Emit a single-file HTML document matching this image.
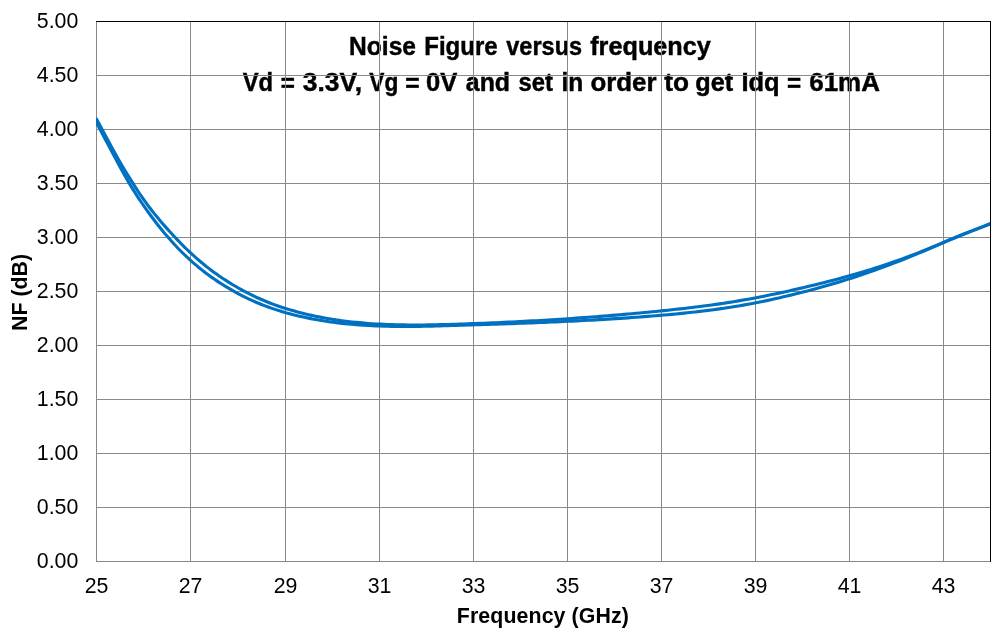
<!DOCTYPE html>
<html><head><meta charset="utf-8"><title>Noise Figure versus frequency</title>
<style>
html,body{margin:0;padding:0;background:#fff;}
body{width:1002px;height:633px;overflow:hidden;font-family:"Liberation Sans",sans-serif;}
svg{display:block;will-change:transform;}
text{font-family:"Liberation Sans",sans-serif;fill:#000;}
.tick{font-size:21.33px;}
.axt{font-size:21.33px;font-weight:bold;}
.ttl{font-weight:bold;}
</style></head>
<body>
<svg width="1002" height="633" viewBox="0 0 1002 633">
<rect x="0" y="0" width="1002" height="633" fill="#ffffff"/>
<g class="ttl" font-size="25.8" stroke="#000" stroke-width="0.45">
<text transform="translate(349.05 54.9) scale(0.9535 1)">Noise</text>
<text transform="translate(424.27 54.9) scale(0.9306 1)">Figure</text>
<text transform="translate(506.20 54.9) scale(0.9126 1)">versus</text>
<text transform="translate(590.20 54.9) scale(0.9787 1)">frequency</text>
<text transform="translate(242.70 90.6) scale(0.9222 1)">Vd</text>
<text transform="translate(280.86 91.5) scale(0.9385 1)">=</text>
<text transform="translate(302.80 90.6) scale(1.0229 1)">3.3V,</text>
<text transform="translate(369.30 90.6) scale(0.8787 1)">Vg</text>
<text transform="translate(405.25 91.5) scale(0.9538 1)">=</text>
<text transform="translate(426.01 90.6) scale(0.9921 1)">0V</text>
<text transform="translate(465.80 90.6) scale(0.9644 1)">and</text>
<text transform="translate(518.60 90.6) scale(0.9232 1)">set</text>
<text transform="translate(561.55 90.6) scale(0.9496 1)">in</text>
<text transform="translate(590.40 90.6) scale(1.0031 1)">order</text>
<text transform="translate(664.30 90.6) scale(1.0174 1)">to</text>
<text transform="translate(695.22 90.6) scale(0.9789 1)">get</text>
<text transform="translate(741.51 90.6) scale(0.9858 1)">Idq</text>
<text transform="translate(787.06 91.5) scale(0.9385 1)">=</text>
<text transform="translate(809.20 90.6) scale(1.0067 1)">61mA</text>
</g>
<g shape-rendering="crispEdges" stroke="#898989" stroke-width="1" fill="none">
<line x1="96.5" y1="21" x2="96.5" y2="562"/>
<line x1="190.5" y1="21" x2="190.5" y2="562"/>
<line x1="285.5" y1="21" x2="285.5" y2="562"/>
<line x1="379.5" y1="21" x2="379.5" y2="562"/>
<line x1="473.5" y1="21" x2="473.5" y2="562"/>
<line x1="567.5" y1="21" x2="567.5" y2="562"/>
<line x1="661.5" y1="21" x2="661.5" y2="562"/>
<line x1="755.5" y1="21" x2="755.5" y2="562"/>
<line x1="849.5" y1="21" x2="849.5" y2="562"/>
<line x1="943.5" y1="21" x2="943.5" y2="562"/>
<line x1="96" y1="75.5" x2="991" y2="75.5"/>
<line x1="96" y1="129.5" x2="991" y2="129.5"/>
<line x1="96" y1="183.5" x2="991" y2="183.5"/>
<line x1="96" y1="237.5" x2="991" y2="237.5"/>
<line x1="96" y1="291.5" x2="991" y2="291.5"/>
<line x1="96" y1="345.5" x2="991" y2="345.5"/>
<line x1="96" y1="399.5" x2="991" y2="399.5"/>
<line x1="96" y1="453.5" x2="991" y2="453.5"/>
<line x1="96" y1="507.5" x2="991" y2="507.5"/>
<line x1="96" y1="561.5" x2="991" y2="561.5"/>
</g>
<defs><clipPath id="plot"><rect x="96" y="21" width="895" height="541"/></clipPath></defs>
<g clip-path="url(#plot)" fill="none" stroke="#0070C0" stroke-width="3.1" stroke-linejoin="round" stroke-linecap="round">
<path d="M96.50 122.51 C97.00 123.47 98.50 126.35 99.50 128.26 C100.50 130.17 101.50 132.08 102.50 133.99 C103.50 135.90 104.50 137.80 105.50 139.69 C106.50 141.59 107.50 143.48 108.50 145.37 C109.50 147.26 110.50 149.14 111.50 151.01 C112.50 152.89 113.50 154.76 114.50 156.62 C115.50 158.49 116.50 160.34 117.50 162.19 C118.50 164.04 119.50 165.88 120.50 167.72 C121.50 169.55 122.50 171.38 123.50 173.18 C124.50 174.98 125.50 176.77 126.50 178.53 C127.50 180.28 128.50 182.02 129.50 183.71 C130.50 185.40 131.50 187.05 132.50 188.67 C133.50 190.29 134.50 191.88 135.50 193.44 C136.50 195.00 137.50 196.52 138.50 198.04 C139.50 199.55 140.50 201.03 141.50 202.51 C142.50 203.98 143.50 205.43 144.50 206.87 C145.50 208.30 146.50 209.72 147.50 211.12 C148.50 212.52 149.50 213.90 150.50 215.27 C151.50 216.63 152.50 217.98 153.50 219.30 C154.50 220.63 155.50 221.94 156.50 223.23 C157.50 224.52 158.50 225.80 159.50 227.05 C160.50 228.31 161.50 229.54 162.50 230.76 C163.50 231.98 164.50 233.18 165.50 234.37 C166.50 235.55 167.50 236.71 168.50 237.86 C169.50 239.01 170.50 240.13 171.50 241.24 C172.50 242.36 173.50 243.45 174.50 244.52 C175.50 245.60 176.50 246.66 177.50 247.70 C178.50 248.74 179.50 249.76 180.50 250.77 C181.50 251.78 182.50 252.77 183.50 253.75 C184.50 254.72 185.50 255.68 186.50 256.62 C187.50 257.57 188.50 258.49 189.50 259.40 C190.50 260.32 191.50 261.21 192.50 262.09 C193.50 262.98 194.50 263.84 195.50 264.69 C196.50 265.55 197.50 266.38 198.50 267.21 C199.50 268.03 200.50 268.84 201.50 269.63 C202.50 270.43 203.50 271.21 204.50 271.98 C205.50 272.75 206.50 273.50 207.50 274.25 C208.50 274.99 209.50 275.72 210.50 276.44 C211.50 277.16 212.50 277.87 213.50 278.56 C214.50 279.26 215.50 279.94 216.50 280.61 C217.50 281.29 218.50 281.95 219.50 282.60 C220.50 283.25 221.50 283.89 222.50 284.53 C223.50 285.16 224.50 285.78 225.50 286.39 C226.50 287.00 227.50 287.61 228.50 288.20 C229.50 288.80 230.50 289.38 231.50 289.96 C232.50 290.53 233.50 291.10 234.50 291.65 C235.50 292.21 236.50 292.76 237.50 293.30 C238.50 293.83 239.50 294.36 240.50 294.88 C241.50 295.40 242.50 295.92 243.50 296.42 C244.50 296.92 245.50 297.41 246.50 297.90 C247.50 298.38 248.50 298.85 249.50 299.32 C250.50 299.79 251.50 300.24 252.50 300.69 C253.50 301.14 254.50 301.58 255.50 302.01 C256.50 302.44 257.50 302.86 258.50 303.28 C259.50 303.69 260.50 304.10 261.50 304.50 C262.50 304.89 263.50 305.28 264.50 305.67 C265.50 306.05 266.50 306.42 267.50 306.79 C268.50 307.16 269.50 307.51 270.50 307.87 C271.50 308.22 272.50 308.56 273.50 308.90 C274.50 309.24 275.50 309.57 276.50 309.89 C277.50 310.21 278.50 310.53 279.50 310.84 C280.50 311.15 281.50 311.45 282.50 311.75 C283.50 312.05 284.50 312.34 285.50 312.62 C286.50 312.90 287.50 313.18 288.50 313.45 C289.50 313.73 290.50 313.99 291.50 314.25 C292.50 314.51 293.50 314.77 294.50 315.01 C295.50 315.26 296.50 315.51 297.50 315.74 C298.50 315.98 299.50 316.22 300.50 316.44 C301.50 316.67 302.50 316.89 303.50 317.11 C304.50 317.33 305.50 317.54 306.50 317.75 C307.50 317.96 308.50 318.16 309.50 318.36 C310.50 318.56 311.50 318.76 312.50 318.95 C313.50 319.14 314.50 319.32 315.50 319.51 C316.50 319.69 317.50 319.86 318.50 320.04 C319.50 320.21 320.50 320.38 321.50 320.54 C322.50 320.71 323.50 320.87 324.50 321.02 C325.50 321.18 326.50 321.33 327.50 321.48 C328.50 321.63 329.50 321.77 330.50 321.91 C331.50 322.05 332.50 322.19 333.50 322.32 C334.50 322.45 335.50 322.58 336.50 322.70 C337.50 322.83 338.92 323.00 339.50 323.07 C340.08 323.14 338.58 322.97 340.00 323.12 C341.42 323.28 345.33 323.72 348.00 323.98 C350.67 324.24 353.33 324.47 356.00 324.68 C358.67 324.90 361.33 325.08 364.00 325.25 C366.67 325.42 369.33 325.57 372.00 325.70 C374.67 325.83 377.33 325.94 380.00 326.03 C382.67 326.13 385.33 326.20 388.00 326.26 C390.67 326.32 393.33 326.36 396.00 326.40 C398.67 326.43 401.33 326.44 404.00 326.45 C406.67 326.45 409.33 326.44 412.00 326.42 C414.67 326.41 417.33 326.38 420.00 326.34 C422.67 326.30 425.33 326.25 428.00 326.20 C430.67 326.15 433.33 326.08 436.00 326.02 C438.67 325.95 441.33 325.88 444.00 325.81 C446.67 325.73 449.33 325.65 452.00 325.57 C454.67 325.49 457.33 325.41 460.00 325.32 C462.67 325.24 465.33 325.16 468.00 325.07 C470.67 324.99 473.33 324.90 476.00 324.82 C478.67 324.73 481.33 324.65 484.00 324.56 C486.67 324.48 489.33 324.39 492.00 324.30 C494.67 324.21 497.33 324.12 500.00 324.03 C502.67 323.94 505.33 323.85 508.00 323.76 C510.67 323.66 513.33 323.57 516.00 323.47 C518.67 323.37 521.33 323.27 524.00 323.17 C526.67 323.07 529.33 322.97 532.00 322.87 C534.67 322.76 537.33 322.66 540.00 322.55 C542.67 322.44 545.33 322.33 548.00 322.21 C550.67 322.10 553.33 321.98 556.00 321.87 C558.67 321.75 561.33 321.62 564.00 321.50 C566.67 321.38 569.33 321.25 572.00 321.12 C574.67 320.99 577.33 320.85 580.00 320.72 C582.67 320.58 585.33 320.44 588.00 320.29 C590.67 320.15 593.33 320.00 596.00 319.85 C598.67 319.70 601.33 319.54 604.00 319.38 C606.67 319.22 609.33 319.06 612.00 318.89 C614.67 318.73 617.33 318.55 620.00 318.38 C622.67 318.20 625.33 318.02 628.00 317.84 C630.67 317.65 633.33 317.46 636.00 317.27 C638.67 317.07 641.33 316.87 644.00 316.67 C646.67 316.47 649.33 316.26 652.00 316.04 C654.67 315.83 657.33 315.61 660.00 315.38 C662.67 315.15 665.33 314.92 668.00 314.68 C670.67 314.44 673.33 314.19 676.00 313.94 C678.67 313.68 681.33 313.42 684.00 313.14 C686.67 312.87 689.33 312.59 692.00 312.29 C694.67 312.00 697.33 311.70 700.00 311.38 C702.67 311.07 705.33 310.74 708.00 310.40 C710.67 310.06 713.33 309.71 716.00 309.35 C718.67 308.98 721.33 308.60 724.00 308.21 C726.67 307.82 729.33 307.41 732.00 306.99 C734.67 306.57 737.33 306.13 740.00 305.68 C742.67 305.22 745.33 304.75 748.00 304.27 C750.67 303.78 753.33 303.28 756.00 302.76 C758.67 302.24 761.33 301.70 764.00 301.15 C766.67 300.60 769.33 300.04 772.00 299.45 C774.67 298.87 777.33 298.28 780.00 297.67 C782.67 297.06 785.33 296.43 788.00 295.79 C790.67 295.16 793.33 294.50 796.00 293.84 C798.67 293.18 801.33 292.50 804.00 291.81 C806.67 291.12 809.33 290.41 812.00 289.70 C814.67 288.98 817.33 288.26 820.00 287.51 C822.67 286.77 825.33 286.02 828.00 285.25 C830.67 284.48 833.33 283.70 836.00 282.90 C838.67 282.11 841.33 281.30 844.00 280.47 C846.67 279.64 849.33 278.80 852.00 277.95 C854.67 277.09 857.33 276.22 860.00 275.33 C862.67 274.44 865.33 273.54 868.00 272.62 C870.67 271.70 873.33 270.76 876.00 269.81 C878.67 268.85 881.33 267.88 884.00 266.90 C886.67 265.91 889.33 264.91 892.00 263.89 C894.67 262.87 897.33 261.84 900.00 260.79 C902.67 259.74 905.33 258.68 908.00 257.60 C910.67 256.52 913.33 255.43 916.00 254.33 C918.67 253.22 921.33 252.10 924.00 250.97 C926.67 249.84 929.33 248.70 932.00 247.55 C934.67 246.40 937.33 245.24 940.00 244.09 C942.67 242.95 945.33 241.79 948.00 240.66 C950.67 239.52 953.33 238.39 956.00 237.29 C958.67 236.18 961.33 235.10 964.00 234.03 C966.67 232.97 969.33 231.94 972.00 230.91 C974.67 229.89 977.33 228.88 980.00 227.87 C982.67 226.86 985.83 225.67 988.00 224.85 C990.17 224.03 992.17 223.26 993.00 222.95"/>
<path d="M96.50 119.08 C97.00 120.00 98.50 122.74 99.50 124.59 C100.50 126.43 101.50 128.29 102.50 130.15 C103.50 132.01 104.50 133.88 105.50 135.74 C106.50 137.60 107.50 139.47 108.50 141.33 C109.50 143.18 110.50 145.03 111.50 146.87 C112.50 148.71 113.50 150.54 114.50 152.34 C115.50 154.15 116.50 155.94 117.50 157.71 C118.50 159.48 119.50 161.22 120.50 162.94 C121.50 164.66 122.50 166.34 123.50 168.01 C124.50 169.69 125.50 171.33 126.50 172.97 C127.50 174.61 128.50 176.22 129.50 177.84 C130.50 179.45 131.50 181.06 132.50 182.65 C133.50 184.24 134.50 185.82 135.50 187.38 C136.50 188.94 137.50 190.48 138.50 191.99 C139.50 193.50 140.50 194.99 141.50 196.44 C142.50 197.90 143.50 199.32 144.50 200.72 C145.50 202.12 146.50 203.49 147.50 204.84 C148.50 206.18 149.50 207.50 150.50 208.80 C151.50 210.10 152.50 211.38 153.50 212.63 C154.50 213.89 155.50 215.12 156.50 216.34 C157.50 217.56 158.50 218.76 159.50 219.94 C160.50 221.13 161.50 222.29 162.50 223.45 C163.50 224.60 164.50 225.74 165.50 226.87 C166.50 228.00 167.50 229.12 168.50 230.22 C169.50 231.33 170.50 232.43 171.50 233.52 C172.50 234.61 173.50 235.69 174.50 236.76 C175.50 237.82 176.50 238.88 177.50 239.93 C178.50 240.97 179.50 242.01 180.50 243.03 C181.50 244.05 182.50 245.06 183.50 246.06 C184.50 247.06 185.50 248.04 186.50 249.01 C187.50 249.99 188.50 250.95 189.50 251.89 C190.50 252.84 191.50 253.77 192.50 254.69 C193.50 255.60 194.50 256.51 195.50 257.40 C196.50 258.28 197.50 259.16 198.50 260.02 C199.50 260.88 200.50 261.72 201.50 262.56 C202.50 263.39 203.50 264.21 204.50 265.01 C205.50 265.82 206.50 266.61 207.50 267.39 C208.50 268.17 209.50 268.94 210.50 269.69 C211.50 270.45 212.50 271.19 213.50 271.92 C214.50 272.65 215.50 273.37 216.50 274.08 C217.50 274.79 218.50 275.49 219.50 276.18 C220.50 276.87 221.50 277.54 222.50 278.21 C223.50 278.88 224.50 279.54 225.50 280.18 C226.50 280.83 227.50 281.47 228.50 282.10 C229.50 282.73 230.50 283.35 231.50 283.96 C232.50 284.57 233.50 285.17 234.50 285.76 C235.50 286.36 236.50 286.94 237.50 287.51 C238.50 288.09 239.50 288.65 240.50 289.21 C241.50 289.76 242.50 290.31 243.50 290.84 C244.50 291.38 245.50 291.91 246.50 292.43 C247.50 292.94 248.50 293.45 249.50 293.95 C250.50 294.45 251.50 294.94 252.50 295.43 C253.50 295.91 254.50 296.38 255.50 296.85 C256.50 297.31 257.50 297.77 258.50 298.22 C259.50 298.66 260.50 299.10 261.50 299.53 C262.50 299.97 263.50 300.39 264.50 300.80 C265.50 301.22 266.50 301.63 267.50 302.02 C268.50 302.42 269.50 302.82 270.50 303.20 C271.50 303.58 272.50 303.96 273.50 304.33 C274.50 304.70 275.50 305.06 276.50 305.42 C277.50 305.77 278.50 306.12 279.50 306.46 C280.50 306.80 281.50 307.14 282.50 307.47 C283.50 307.79 284.50 308.11 285.50 308.43 C286.50 308.75 287.50 309.05 288.50 309.36 C289.50 309.66 290.50 309.96 291.50 310.25 C292.50 310.54 293.50 310.82 294.50 311.10 C295.50 311.38 296.50 311.65 297.50 311.92 C298.50 312.19 299.50 312.45 300.50 312.71 C301.50 312.96 302.50 313.22 303.50 313.46 C304.50 313.71 305.50 313.95 306.50 314.19 C307.50 314.43 308.50 314.66 309.50 314.89 C310.50 315.11 311.50 315.34 312.50 315.55 C313.50 315.77 314.50 315.98 315.50 316.19 C316.50 316.40 317.50 316.61 318.50 316.81 C319.50 317.01 320.50 317.20 321.50 317.39 C322.50 317.58 323.50 317.77 324.50 317.95 C325.50 318.13 326.50 318.31 327.50 318.48 C328.50 318.66 329.50 318.83 330.50 318.99 C331.50 319.16 332.50 319.32 333.50 319.48 C334.50 319.63 335.50 319.79 336.50 319.93 C337.50 320.08 338.92 320.29 339.50 320.37 C340.08 320.45 338.58 320.26 340.00 320.44 C341.42 320.62 345.33 321.16 348.00 321.48 C350.67 321.80 353.33 322.09 356.00 322.36 C358.67 322.63 361.33 322.87 364.00 323.09 C366.67 323.31 369.33 323.51 372.00 323.69 C374.67 323.87 377.33 324.02 380.00 324.16 C382.67 324.30 385.33 324.42 388.00 324.52 C390.67 324.62 393.33 324.70 396.00 324.77 C398.67 324.83 401.33 324.88 404.00 324.92 C406.67 324.95 409.33 324.97 412.00 324.98 C414.67 324.99 417.33 324.98 420.00 324.97 C422.67 324.95 425.33 324.92 428.00 324.89 C430.67 324.85 433.33 324.80 436.00 324.75 C438.67 324.69 441.33 324.63 444.00 324.56 C446.67 324.49 449.33 324.42 452.00 324.34 C454.67 324.26 457.33 324.17 460.00 324.08 C462.67 323.99 465.33 323.90 468.00 323.81 C470.67 323.71 473.33 323.61 476.00 323.51 C478.67 323.41 481.33 323.31 484.00 323.20 C486.67 323.09 489.33 322.98 492.00 322.87 C494.67 322.75 497.33 322.64 500.00 322.52 C502.67 322.40 505.33 322.27 508.00 322.14 C510.67 322.02 513.33 321.89 516.00 321.75 C518.67 321.62 521.33 321.48 524.00 321.34 C526.67 321.20 529.33 321.06 532.00 320.91 C534.67 320.76 537.33 320.61 540.00 320.45 C542.67 320.30 545.33 320.14 548.00 319.98 C550.67 319.82 553.33 319.65 556.00 319.48 C558.67 319.31 561.33 319.14 564.00 318.97 C566.67 318.79 569.33 318.61 572.00 318.43 C574.67 318.24 577.33 318.06 580.00 317.87 C582.67 317.68 585.33 317.48 588.00 317.28 C590.67 317.09 593.33 316.88 596.00 316.68 C598.67 316.47 601.33 316.26 604.00 316.05 C606.67 315.84 609.33 315.62 612.00 315.40 C614.67 315.18 617.33 314.96 620.00 314.73 C622.67 314.50 625.33 314.27 628.00 314.03 C630.67 313.79 633.33 313.55 636.00 313.31 C638.67 313.07 641.33 312.82 644.00 312.57 C646.67 312.32 649.33 312.06 652.00 311.80 C654.67 311.54 657.33 311.28 660.00 311.01 C662.67 310.74 665.33 310.46 668.00 310.18 C670.67 309.90 673.33 309.62 676.00 309.33 C678.67 309.03 681.33 308.73 684.00 308.43 C686.67 308.12 689.33 307.81 692.00 307.48 C694.67 307.16 697.33 306.83 700.00 306.49 C702.67 306.15 705.33 305.80 708.00 305.44 C710.67 305.08 713.33 304.72 716.00 304.34 C718.67 303.96 721.33 303.57 724.00 303.17 C726.67 302.76 729.33 302.35 732.00 301.92 C734.67 301.50 737.33 301.06 740.00 300.61 C742.67 300.16 745.33 299.69 748.00 299.22 C750.67 298.74 753.33 298.25 756.00 297.74 C758.67 297.24 761.33 296.72 764.00 296.19 C766.67 295.66 769.33 295.12 772.00 294.57 C774.67 294.02 777.33 293.46 780.00 292.88 C782.67 292.31 785.33 291.73 788.00 291.14 C790.67 290.54 793.33 289.94 796.00 289.33 C798.67 288.72 801.33 288.10 804.00 287.47 C806.67 286.85 809.33 286.21 812.00 285.57 C814.67 284.92 817.33 284.27 820.00 283.61 C822.67 282.94 825.33 282.27 828.00 281.59 C830.67 280.90 833.33 280.21 836.00 279.50 C838.67 278.79 841.33 278.07 844.00 277.34 C846.67 276.61 849.33 275.86 852.00 275.10 C854.67 274.34 857.33 273.56 860.00 272.77 C862.67 271.98 865.33 271.17 868.00 270.35 C870.67 269.52 873.33 268.68 876.00 267.82 C878.67 266.96 881.33 266.09 884.00 265.19 C886.67 264.30 889.33 263.38 892.00 262.45 C894.67 261.52 897.33 260.58 900.00 259.61 C902.67 258.64 905.33 257.66 908.00 256.66 C910.67 255.66 913.33 254.64 916.00 253.61 C918.67 252.57 921.33 251.52 924.00 250.45 C926.67 249.38 929.33 248.29 932.00 247.19 C934.67 246.10 937.33 244.98 940.00 243.87 C942.67 242.76 945.33 241.64 948.00 240.53 C950.67 239.42 953.33 238.31 956.00 237.22 C958.67 236.13 961.33 235.05 964.00 233.98 C966.67 232.92 969.33 231.88 972.00 230.83 C974.67 229.79 977.33 228.76 980.00 227.71 C982.67 226.66 985.83 225.42 988.00 224.55 C990.17 223.69 992.17 222.87 993.00 222.54"/>
</g>
<g shape-rendering="crispEdges" stroke="#000" stroke-width="1" fill="none">
<line x1="96" y1="21.5" x2="991" y2="21.5"/>
<line x1="990.5" y1="21" x2="990.5" y2="562"/>
</g>
<g class="tick" text-anchor="end">
<text x="78.3" y="27.8">5.00</text>
<text x="78.3" y="81.8">4.50</text>
<text x="78.3" y="135.8">4.00</text>
<text x="78.3" y="189.8">3.50</text>
<text x="78.3" y="243.8">3.00</text>
<text x="78.3" y="297.8">2.50</text>
<text x="78.3" y="351.8">2.00</text>
<text x="78.3" y="405.8">1.50</text>
<text x="78.3" y="459.8">1.00</text>
<text x="78.3" y="513.8">0.50</text>
<text x="78.3" y="567.8">0.00</text>
</g>
<g class="tick" text-anchor="middle">
<text x="96.5" y="593">25</text>
<text x="190.5" y="593">27</text>
<text x="285.5" y="593">29</text>
<text x="379.5" y="593">31</text>
<text x="473.5" y="593">33</text>
<text x="567.5" y="593">35</text>
<text x="661.5" y="593">37</text>
<text x="755.5" y="593">39</text>
<text x="849.5" y="593">41</text>
<text x="943.5" y="593">43</text>
</g>
<text class="axt" x="542.9" y="622.8" text-anchor="middle" letter-spacing="0.1">Frequency (GHz)</text>
<text class="axt" transform="translate(27.3 292.4) rotate(-90)" text-anchor="middle">NF (dB)</text>
</svg>
</body></html>
